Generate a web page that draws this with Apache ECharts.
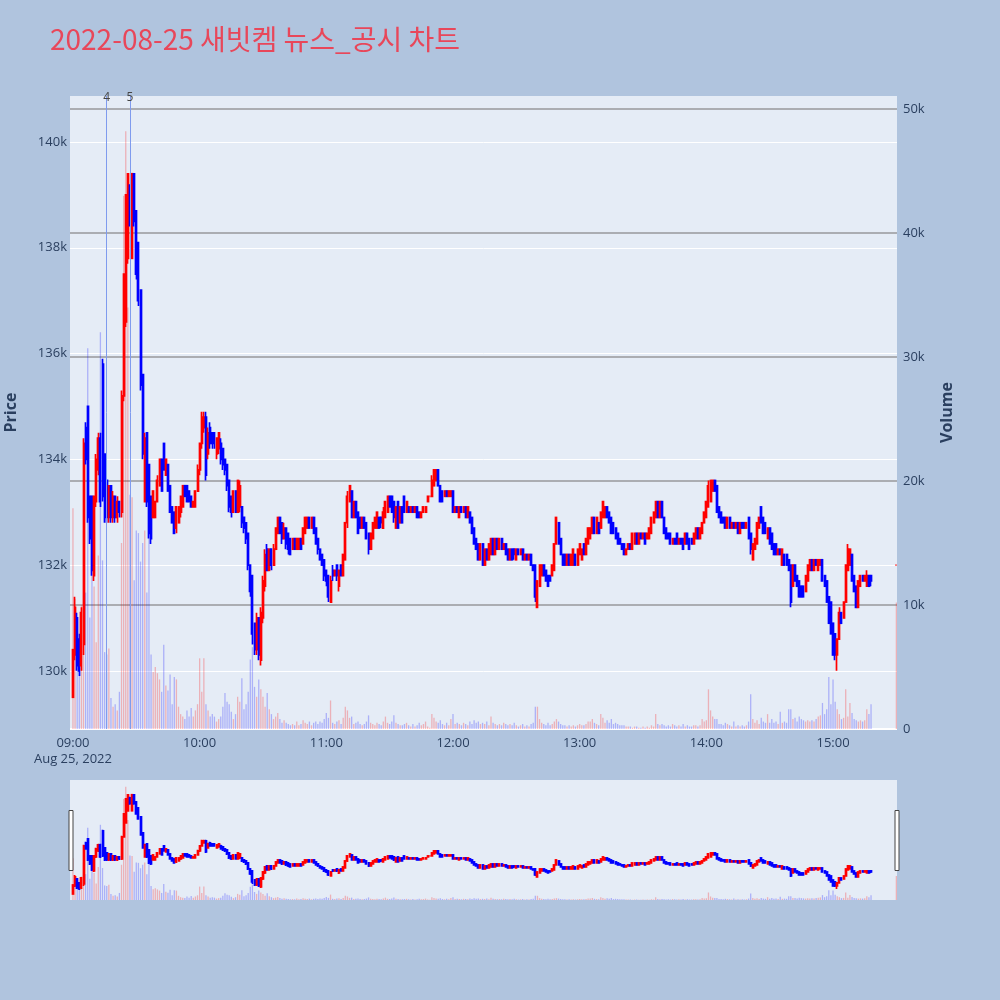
<!DOCTYPE html>
<html><head><meta charset="utf-8">
<script src="https://cdn.jsdelivr.net/npm/echarts@6/dist/echarts.min.js"></script>
<style>html,body{margin:0;padding:0;background:#b0c4de}#c{width:1000px;height:1000px}</style>
</head><body><div id="c"></div><script>
const titleText = '2022-08-25 새빗켐 뉴스_공시 차트';
const priceTicks = [130, 132, 134, 136, 138, 140];
const volumeTicks = [0, 10, 20, 30, 40, 50];
const hourTicks = [0, 60, 120, 180, 240, 300, 360];
const hourLabels = ['09:00', '10:00', '11:00', '12:00', '13:00', '14:00', '15:00'];
const dateLabel = 'Aug 25, 2022';
const newsMinutes = [16, 27];
const newsLabels = ['4', '5'];
// rows per minute: [open, close, low, high (thousand KRW), volume (thousand shares)]
const bars09 = [
[129.5,130.4,129.5,130.4,17.8],[130.3,131.2,130.2,131.4,10.5],[131.0,130.1,130.0,131.1,8.0],[130.6,130.0,129.9,130.7,6.0],[130.1,131.1,130.0,131.2,10.0],
[130.5,134.3,130.3,134.4,16.0],[134.6,134.0,133.9,134.7,11.0],[135.0,132.9,132.8,135.0,30.7],[133.3,132.5,132.4,133.3,9.0],[133.3,131.9,131.8,133.3,18.0],
[131.8,133.3,131.7,133.3,11.5],[133.2,134.0,133.1,134.1,7.0],[133.8,134.4,133.7,134.5,14.0],[134.4,133.2,133.1,134.5,32.0],[135.8,133.3,133.2,135.9,13.6],
[134.1,132.9,132.8,134.1,6.2],[133.6,132.9,132.8,133.6,6.0],[132.9,133.5,132.8,133.5,6.5],[133.5,132.9,132.8,133.5,2.5],[132.9,133.3,132.8,133.4,1.8],
[133.3,132.9,132.8,133.3,2.0],[132.9,133.2,132.8,133.3,1.5],[133.2,133.0,132.9,133.2,3.0],[133.0,135.2,132.9,135.3,15.0],[135.2,137.5,135.1,137.5,43.0],
[136.6,139.0,136.5,139.0,48.2],[137.8,139.4,137.7,139.4,34.0],[139.1,138.5,138.4,139.2,18.9],[137.8,139.4,137.8,139.4,18.7],[139.4,138.5,138.4,139.4,12.0],
[138.7,137.5,137.4,138.7,16.0],[138.1,137.0,136.9,138.1,15.8],[137.2,135.4,135.3,137.2,13.5],[135.6,134.1,134.0,135.6,15.0],[133.2,134.4,133.2,134.5,16.0],
[134.5,133.2,133.1,134.5,11.0],[133.9,132.6,132.5,133.9,16.0],[133.3,132.5,132.4,133.3,6.0],[132.9,133.4,132.9,133.4,4.6],[132.9,133.2,132.9,133.2,5.0],
[133.2,133.6,133.2,133.7,4.5],[133.5,134.0,133.5,134.0,4.0],[134.0,133.4,133.4,134.0,3.0],[134.3,133.8,133.8,134.3,6.8],[133.7,134.0,133.7,134.0,3.5],
[133.9,133.4,133.4,133.9,3.1],[133.5,133.0,133.0,133.5,4.4],[133.1,132.8,132.8,133.1,2.0],[133.0,132.6,132.6,133.0,4.2],[132.7,133.1,132.6,133.1,4.0],
[132.8,133.1,132.8,133.1,1.8],[133.0,133.3,132.9,133.3,1.2],[133.1,133.5,133.1,133.5,1.0],[133.5,133.3,133.3,133.5,0.8],[133.5,133.2,133.2,133.5,1.5],
[133.4,133.2,133.2,133.4,1.0],[133.3,133.1,133.1,133.3,1.7],[133.1,133.2,133.1,133.2,1.0],[133.1,133.4,133.1,133.4,1.5],[133.4,133.8,133.4,133.9,2.0]
];
const bars10 = [
[133.8,134.3,133.7,134.3,5.7],[134.3,134.8,134.2,134.9,3.0],[134.6,134.8,134.5,134.9,5.7],[134.8,133.7,133.6,134.9,2.0],[134.1,134.5,134.0,134.6,1.5],
[134.6,134.3,134.2,134.7,1.0],[134.5,134.3,134.2,134.5,1.2],[134.5,134.3,134.2,134.5,1.0],[134.1,134.4,134.0,134.4,0.6],[134.2,134.5,134.1,134.5,0.8],
[134.3,134.0,133.9,134.4,1.0],[134.2,133.9,133.8,134.2,1.8],[134.0,133.8,133.7,134.0,2.9],[133.9,133.5,133.4,133.9,2.2],[133.6,133.1,133.0,133.6,2.0],
[133.3,133.0,132.9,133.3,1.4],[133.0,133.4,133.0,133.4,0.8],[133.4,133.0,133.0,133.4,1.2],[133.0,133.6,133.0,133.6,2.6],[133.1,133.5,133.0,133.6,2.2],
[133.1,132.8,132.7,133.1,4.1],[132.9,132.7,132.6,132.9,1.6],[132.8,132.5,132.4,132.8,2.0],[132.6,132.0,131.9,132.6,3.0],[132.0,131.5,131.4,132.0,5.6],
[131.8,130.7,130.5,131.8,6.6],[130.9,130.4,130.3,130.9,3.4],[130.4,131.0,130.3,131.1,2.6],[131.0,130.3,130.2,131.0,4.0],[130.2,131.1,130.1,131.2,3.2],
[131.0,131.7,130.9,131.8,2.6],[131.6,132.2,131.5,132.3,1.8],[132.3,131.9,131.9,132.4,2.9],[131.9,132.3,131.9,132.3,1.6],[132.3,132.0,131.9,132.3,1.2],
[132.0,132.3,132.0,132.4,0.8],[132.3,132.7,132.3,132.7,1.0],[132.6,132.9,132.6,132.9,1.3],[132.9,132.6,132.6,132.9,0.8],[132.8,132.5,132.4,132.8,0.5],
[132.5,132.7,132.5,132.8,0.7],[132.7,132.4,132.3,132.7,0.5],[132.6,132.3,132.2,132.6,0.4],[132.5,132.2,132.2,132.5,0.3],[132.3,132.5,132.3,132.5,0.4],
[132.5,132.3,132.3,132.5,0.3],[132.3,132.5,132.3,132.5,0.6],[132.3,132.5,132.3,132.5,0.3],[132.5,132.3,132.3,132.5,0.4],[132.4,132.7,132.4,132.7,0.7],
[132.6,132.9,132.6,132.9,0.5],[132.7,132.9,132.7,132.9,0.4],[132.9,132.7,132.7,132.9,0.6],[132.7,132.9,132.7,132.9,0.3],[132.9,132.6,132.6,132.9,0.5],
[132.7,132.4,132.4,132.7,0.6],[132.5,132.3,132.2,132.5,0.4],[132.3,132.1,132.1,132.3,0.6],[132.2,132.0,132.0,132.2,0.5],[132.1,131.8,131.7,132.1,0.8]
];
const bars11 = [
[131.9,131.7,131.6,131.9,1.3],[131.8,131.4,131.3,131.8,0.9],[131.3,131.7,131.3,131.8,2.3],[131.9,131.8,131.7,132.0,0.5],[131.8,131.9,131.8,131.9,0.4],
[132.0,131.8,131.7,132.0,0.6],[131.6,131.9,131.5,131.9,0.7],[132.0,131.8,131.8,132.0,0.4],[131.8,132.2,131.8,132.2,0.9],[132.1,132.8,132.1,132.8,1.8],
[132.8,133.3,132.7,133.4,1.5],[133.2,133.5,133.2,133.5,0.9],[133.4,132.9,132.9,133.4,1.0],[132.9,133.2,132.9,133.2,0.4],[133.2,132.9,132.9,133.2,0.5],
[133.0,132.6,132.6,133.0,0.6],[132.9,132.7,132.7,132.9,0.4],[132.7,132.9,132.7,132.9,0.3],[132.9,132.7,132.7,132.9,0.4],[132.8,132.5,132.5,132.8,0.6],
[132.6,132.3,132.2,132.6,1.1],[132.3,132.6,132.3,132.6,0.5],[132.5,132.8,132.5,132.8,0.4],[132.7,132.9,132.7,132.9,0.3],[132.7,133.0,132.7,133.0,0.5],
[132.9,132.7,132.7,132.9,0.4],[132.9,132.8,132.7,132.9,0.3],[132.7,133.0,132.7,133.1,0.6],[132.9,133.2,132.9,133.2,1.0],[133.0,133.3,133.0,133.3,0.5],
[133.3,133.1,133.1,133.3,0.4],[133.3,133.0,133.0,133.3,0.6],[133.2,132.9,132.8,133.2,1.1],[132.7,133.1,132.7,133.1,0.5],[133.2,132.7,132.7,133.2,0.4],
[132.8,133.1,132.8,133.1,0.3],[133.1,132.8,132.8,133.1,0.3],[133.3,133.0,133.0,133.3,0.4],[133.0,133.2,133.0,133.2,0.5],[133.1,133.0,133.0,133.1,0.3],
[133.0,133.1,133.0,133.1,0.2],[133.1,133.0,133.0,133.1,0.4],[133.0,133.1,133.0,133.1,0.2],[133.1,132.9,132.9,133.1,0.3],[133.0,132.9,132.9,133.0,0.5],
[132.9,133.0,132.9,133.0,0.3],[133.0,133.1,133.0,133.1,0.4],[133.0,133.1,133.0,133.1,0.6],[133.2,133.3,133.2,133.3,0.2],[133.3,133.3,133.3,133.3,0.1],
[133.3,133.6,133.3,133.7,1.2],[133.5,133.8,133.5,133.8,0.9],[133.6,133.8,133.6,133.8,0.6],[133.8,133.5,133.5,133.8,0.5],[133.5,133.2,133.2,133.5,0.7],
[133.4,133.2,133.2,133.4,0.4],[133.3,133.4,133.3,133.4,0.3],[133.4,133.3,133.3,133.4,0.5],[133.3,133.4,133.3,133.4,0.3],[133.3,133.4,133.3,133.4,0.8]
];
const bars12 = [
[133.4,133.0,133.0,133.4,1.2],[133.0,133.1,133.0,133.1,0.4],[133.1,133.0,133.0,133.1,0.5],[132.9,133.1,132.9,133.1,0.4],[133.1,133.0,133.0,133.1,0.3],
[133.0,133.1,133.0,133.1,0.5],[133.1,132.9,132.9,133.1,0.4],[132.9,133.1,132.9,133.1,0.3],[133.0,132.8,132.8,133.0,0.6],[132.9,132.6,132.6,132.9,0.4],
[132.7,132.4,132.4,132.7,0.7],[132.5,132.3,132.3,132.5,0.5],[132.4,132.1,132.1,132.4,0.6],[132.1,132.4,132.1,132.4,0.4],[132.4,132.0,132.0,132.4,0.5],
[132.0,132.3,132.0,132.3,0.4],[132.3,132.1,132.1,132.3,0.6],[132.1,132.4,132.1,132.4,0.3],[132.2,132.5,132.2,132.5,1.0],[132.5,132.2,132.2,132.5,0.5],
[132.2,132.5,132.2,132.5,0.4],[132.5,132.3,132.3,132.5,0.3],[132.3,132.5,132.3,132.5,0.4],[132.5,132.3,132.3,132.5,0.3],[132.3,132.4,132.3,132.4,0.5],
[132.4,132.2,132.2,132.4,0.4],[132.3,132.1,132.1,132.3,0.3],[132.1,132.3,132.1,132.3,0.4],[132.3,132.1,132.1,132.3,0.3],[132.3,132.2,132.1,132.3,0.5],
[132.1,132.3,132.1,132.3,0.3],[132.3,132.2,132.2,132.3,0.2],[132.2,132.3,132.2,132.3,0.3],[132.3,132.1,132.1,132.3,0.4],[132.1,132.2,132.1,132.2,0.2],
[132.2,132.1,132.1,132.2,0.3],[132.1,132.2,132.1,132.2,0.2],[132.2,132.0,132.0,132.2,0.4],[132.0,131.9,131.9,132.0,0.5],[132.0,131.4,131.3,132.0,1.8],
[131.2,131.7,131.2,131.7,1.8],[131.6,132.0,131.6,132.0,0.8],[131.8,132.0,131.8,132.0,0.5],[132.0,131.8,131.8,132.0,0.4],[131.9,131.7,131.7,131.9,0.3],
[131.8,131.6,131.6,131.8,0.5],[131.8,131.7,131.7,131.8,0.3],[131.8,132.0,131.8,132.0,0.4],[131.9,132.4,131.9,132.4,0.6],[132.4,132.9,132.4,132.9,0.8],
[132.8,132.4,132.4,132.8,0.6],[132.5,132.2,132.2,132.5,0.4],[132.2,132.0,132.0,132.2,0.3],[132.2,132.0,132.0,132.2,0.3],[132.0,132.2,132.0,132.2,0.2],
[132.2,132.0,132.0,132.2,0.3],[132.0,132.2,132.0,132.2,0.2],[132.0,132.3,132.0,132.3,0.3],[132.2,132.0,132.0,132.2,0.2],[132.0,132.3,132.0,132.3,0.3]
];
const bars13 = [
[132.2,132.4,132.2,132.4,0.4],[132.1,132.3,132.1,132.3,0.3],[132.4,132.2,132.2,132.4,0.3],[132.2,132.5,132.2,132.5,0.4],[132.4,132.7,132.4,132.7,0.6],
[132.5,132.7,132.5,132.7,0.6],[132.6,132.9,132.6,132.9,0.8],[132.9,132.6,132.6,132.9,0.5],[132.6,132.9,132.6,132.9,0.4],[132.8,132.6,132.6,132.8,0.3],
[132.7,133.0,132.7,133.0,1.2],[132.9,133.2,132.9,133.2,0.9],[132.9,133.1,132.9,133.1,0.5],[133.1,132.9,132.9,133.1,0.7],[133.0,132.8,132.8,133.0,0.5],
[132.9,132.6,132.6,132.9,0.8],[132.8,132.6,132.6,132.8,0.4],[132.7,132.5,132.5,132.7,0.5],[132.6,132.4,132.4,132.6,0.4],[132.5,132.4,132.4,132.5,0.3],
[132.4,132.3,132.3,132.4,0.3],[132.4,132.2,132.2,132.4,0.3],[132.2,132.3,132.2,132.3,0.2],[132.3,132.4,132.3,132.4,0.2],[132.4,132.3,132.3,132.4,0.2],
[132.3,132.6,132.3,132.6,0.1],[132.4,132.6,132.4,132.6,0.2],[132.6,132.4,132.4,132.6,0.2],[132.4,132.6,132.4,132.6,0.1],[132.6,132.5,132.5,132.6,0.1],
[132.5,132.6,132.5,132.6,0.2],[132.6,132.4,132.4,132.6,0.1],[132.5,132.6,132.5,132.6,0.2],[132.5,132.7,132.5,132.7,0.1],[132.6,132.9,132.6,132.9,0.3],
[132.8,133.0,132.8,133.0,0.2],[132.9,133.2,132.9,133.2,1.2],[133.2,132.9,132.9,133.2,0.4],[132.9,133.2,132.9,133.2,0.3],[133.2,132.9,132.9,133.2,0.4],
[132.9,132.6,132.6,132.9,0.3],[132.7,132.5,132.5,132.7,0.2],[132.6,132.5,132.5,132.6,0.3],[132.6,132.4,132.4,132.6,0.2],[132.4,132.5,132.4,132.5,0.4],
[132.5,132.4,132.4,132.5,0.3],[132.6,132.4,132.4,132.6,0.2],[132.4,132.5,132.4,132.5,0.3],[132.5,132.4,132.4,132.5,0.2],[132.5,132.3,132.3,132.5,0.4],
[132.4,132.6,132.4,132.6,0.2],[132.6,132.4,132.4,132.6,0.3],[132.5,132.3,132.3,132.5,0.2],[132.5,132.4,132.4,132.5,0.2],[132.4,132.6,132.4,132.6,0.3],
[132.5,132.7,132.5,132.7,0.3],[132.7,132.5,132.5,132.7,0.2],[132.5,132.7,132.5,132.7,0.3],[132.6,132.8,132.6,132.8,0.8],[132.8,133.0,132.8,133.0,0.6]
];
const bars14 = [
[132.9,133.2,132.9,133.2,0.7],[133.1,133.5,133.1,133.6,3.2],[133.2,133.6,133.2,133.6,1.5],[133.4,133.6,133.4,133.6,1.0],[133.6,133.4,133.4,133.6,0.8],
[133.5,133.0,133.0,133.5,0.8],[133.1,132.9,132.9,133.1,0.4],[133.0,132.8,132.8,133.0,0.4],[132.9,132.8,132.8,132.9,0.3],[132.9,132.7,132.7,132.9,0.5],
[132.7,132.9,132.7,132.9,0.4],[132.9,132.7,132.7,132.9,0.3],[132.7,132.8,132.7,132.8,0.2],[132.8,132.7,132.7,132.8,0.6],[132.7,132.8,132.7,132.8,0.2],
[132.8,132.6,132.6,132.8,0.3],[132.6,132.8,132.6,132.8,0.2],[132.8,132.7,132.7,132.8,0.3],[132.8,132.7,132.7,132.8,0.2],[132.7,132.8,132.7,132.8,0.3],
[132.9,132.5,132.5,132.9,0.6],[132.6,132.3,132.2,132.6,2.8],[132.1,132.4,132.1,132.4,0.8],[132.3,132.5,132.3,132.5,0.5],[132.4,132.8,132.4,132.8,0.7],
[132.7,132.9,132.7,132.9,0.4],[133.1,132.8,132.8,133.1,0.9],[132.9,132.6,132.6,132.9,0.6],[132.8,132.6,132.6,132.8,0.5],[132.5,132.7,132.5,132.7,1.2],
[132.7,132.4,132.4,132.7,0.5],[132.6,132.3,132.3,132.6,0.8],[132.4,132.2,132.2,132.4,0.5],[132.4,132.2,132.2,132.4,0.6],[132.2,132.3,132.2,132.3,0.4],
[132.3,132.2,132.2,132.3,1.4],[132.0,132.3,132.0,132.3,0.5],[132.2,132.0,132.0,132.2,0.6],[132.2,132.0,132.0,132.2,0.5],[132.1,131.9,131.9,132.1,1.6],
[132.0,131.3,131.2,132.0,1.6],[131.6,132.0,131.6,132.0,0.8],[132.0,131.7,131.7,132.0,0.9],[131.8,131.6,131.6,131.8,0.6],[131.7,131.4,131.4,131.7,1.0],
[131.6,131.4,131.4,131.6,0.8],[131.6,131.4,131.4,131.6,0.7],[131.5,131.8,131.5,131.8,0.6],[131.7,132.0,131.7,132.0,0.7],[131.9,132.1,131.9,132.1,0.6],
[132.1,131.9,131.9,132.1,0.7],[131.9,132.1,131.9,132.1,0.6],[132.1,132.0,132.0,132.1,0.8],[131.9,132.1,131.9,132.1,1.0],[132.0,132.1,132.0,132.1,1.1],
[132.1,131.7,131.7,132.1,2.1],[131.8,131.6,131.6,131.8,1.2],[131.7,131.3,131.3,131.7,1.6],[131.4,130.9,130.9,131.4,4.2],[131.3,130.7,130.7,131.3,2.0]
];
const bars15 = [
[130.9,130.3,130.3,130.9,4.0],[130.7,130.3,130.2,130.7,2.2],[130.3,130.6,130.0,130.6,1.6],[130.6,131.1,130.6,131.2,1.2],[131.1,130.9,130.9,131.1,0.8],
[131.0,131.3,131.0,131.3,0.9],[131.3,132.0,131.3,132.0,3.2],[131.9,132.3,131.9,132.4,1.0],[132.0,132.3,132.0,132.3,2.1],[132.2,131.7,131.7,132.2,1.3],
[131.8,131.5,131.5,131.8,0.8],[131.6,131.2,131.2,131.6,0.7],[131.2,131.7,131.2,131.7,0.6],[131.6,131.8,131.6,131.8,0.7],[131.8,131.7,131.7,131.8,0.6],
[131.7,131.8,131.7,131.8,0.7],[131.6,131.8,131.6,131.9,1.6],[131.8,131.6,131.6,131.8,1.2],[131.8,131.7,131.6,131.8,2.0]
];
const closingMinute = 390;   // 15:30 closing auction
const closingBar = [132.0,132.0,132.0,132.0,10.2];

const xMin = -1.4, xMax = 390.3;
const priceMin = 128.9, priceMax = 140.87;
const volMax = 51.05;
const upColor = '#ff0000', downColor = '#0000ff';
const volUp = 'rgba(255,0,0,0.25)', volDown = 'rgba(0,0,255,0.25)';

const rows = [];
[bars09, bars10, bars11, bars12, bars13, bars14, bars15].forEach((blk, h) =>
  blk.forEach((r, i) => rows.push({ m: h * 60 + i, r })));
rows.push({ m: closingMinute, r: closingBar });

const candleData = rows.map(({ m, r }) => [m, r[0], r[1], r[2], r[3]]);
const volData = rows.map(({ m, r }, k) => {
  const prevClose = k > 0 ? rows[k - 1].r[1] : r[0];
  const up = r[1] > r[0] || (r[1] === r[0] && prevClose <= r[1]);
  return { value: [m, r[4]], itemStyle: { color: up ? volUp : volDown } };
});

const fontFam = '"Open Sans", "Noto Sans", sans-serif';
const axisText = { color: '#2a3f5f', fontSize: 13, fontFamily: fontFam };
const gridGrey = '#abadb2';

const chart = echarts.init(document.getElementById('c'), null, { renderer: 'canvas' });
chart.setOption({
  animation: false,
  backgroundColor: '#b0c4de',
  title: {
    text: titleText, left: 45, top: 20,
    textStyle: { color: '#e8475a', fontSize: 28, fontWeight: 'normal', fontFamily: '"Noto Sans CJK KR", ' + fontFam }
  },
  grid: [
    { left: 70, right: 103, top: 96, height: 633, show: true, backgroundColor: '#e5ecf6', borderWidth: 0, containLabel: false, outerBoundsMode: 'none' },
    { left: 70, right: 103, top: 780, height: 120, show: true, backgroundColor: '#e5ecf6', borderWidth: 0, containLabel: false, outerBoundsMode: 'none' }
  ],
  xAxis: [
    {
      type: 'value', gridIndex: 0, min: xMin, max: xMax,
      axisLine: { show: false }, axisTick: { show: false }, splitLine: { show: false },
      axisLabel: Object.assign({
        customValues: hourTicks, margin: 6, lineHeight: 16,
        formatter: v => { const i = hourTicks.indexOf(v); return i === 0 ? hourLabels[0] + '\n' + dateLabel : hourLabels[i]; }
      }, axisText)
    },
    { type: 'value', gridIndex: 1, min: xMin, max: xMax, show: false, splitLine: { show: false } }
  ],
  yAxis: [
    {
      type: 'value', gridIndex: 0, position: 'left', min: priceMin, max: priceMax,
      name: 'Price', nameLocation: 'middle', nameGap: 51, nameRotate: 90,
      nameTextStyle: { color: '#2a3f5f', fontSize: 16, fontWeight: 'bold', fontFamily: fontFam },
      axisLine: { show: false }, axisTick: { show: false, customValues: priceTicks },
      axisLabel: Object.assign({ customValues: priceTicks, margin: 3, formatter: v => v + 'k' }, axisText),
      splitLine: { show: true, lineStyle: { color: '#ffffff', width: 1 } }
    },
    {
      type: 'value', gridIndex: 0, position: 'right', min: 0, max: volMax,
      name: 'Volume', nameLocation: 'middle', nameGap: 42, nameRotate: 90,
      nameTextStyle: { color: '#2a3f5f', fontSize: 16, fontWeight: 'bold', fontFamily: fontFam },
      axisLine: { show: false }, axisTick: { show: false, customValues: volumeTicks },
      axisLabel: Object.assign({ customValues: volumeTicks, margin: 6, formatter: v => v === 0 ? '0' : v + 'k' }, axisText),
      splitLine: { show: true, lineStyle: { color: ['#ffffff', gridGrey, gridGrey, gridGrey, gridGrey, gridGrey], width: 2 } }
    },
    { type: 'value', gridIndex: 1, min: priceMin, max: priceMax, show: false, splitLine: { show: false } },
    { type: 'value', gridIndex: 1, min: 0, max: volMax, show: false, splitLine: { show: false } }
  ],
  series: [
    {
      type: 'bar', name: 'Volume', xAxisIndex: 0, yAxisIndex: 1, data: volData,
      barWidth: 1.3, z: 2, silent: true
    },
    {
      type: 'candlestick', name: 'Price', xAxisIndex: 0, yAxisIndex: 0, data: candleData,
      barWidth: 1.5, z: 3, silent: true,
      itemStyle: { color: upColor, color0: downColor, borderColor: upColor, borderColor0: downColor, borderWidth: 1.7 },
      markLine: {
        symbol: 'none', silent: true, animation: false,
        lineStyle: { color: '#7f9bee', width: 1, type: 'solid' },
        label: { show: true, position: 'end', formatter: '{b}', color: '#444', fontSize: 12, distance: -8, fontFamily: fontFam },
        data: newsMinutes.map((m, i) => ({ xAxis: m, name: newsLabels[i] }))
      }
    },
    {
      type: 'bar', xAxisIndex: 1, yAxisIndex: 3, data: volData,
      barWidth: 1.3, z: 2, silent: true
    },
    {
      type: 'candlestick', xAxisIndex: 1, yAxisIndex: 2, data: candleData,
      barWidth: 1.5, z: 3, silent: true,
      itemStyle: { color: upColor, color0: downColor, borderColor: upColor, borderColor0: downColor, borderWidth: 1.7 }
    }
  ],
  graphic: [
    { type: 'rect', left: 68.5, top: 810, shape: { width: 4, height: 60 }, style: { fill: '#ffffff', stroke: '#444', lineWidth: 1 }, z: 10 },
    { type: 'rect', left: 894.5, top: 810, shape: { width: 4, height: 60 }, style: { fill: '#ffffff', stroke: '#444', lineWidth: 1 }, z: 10 }
  ]
});
</script></body></html>
